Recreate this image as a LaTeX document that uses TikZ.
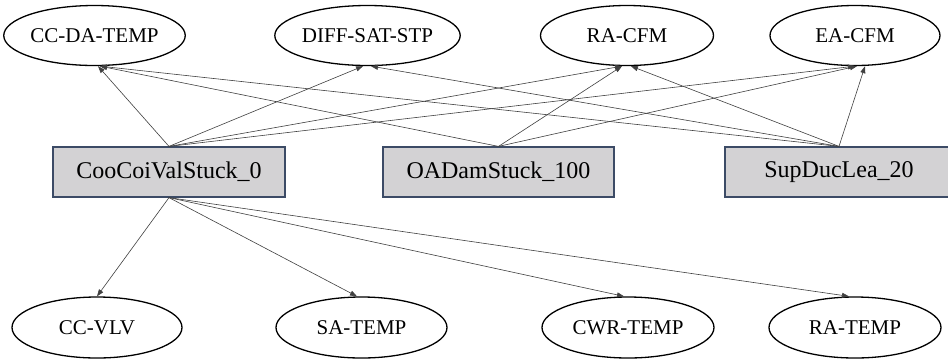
\documentclass[tikz,border=0pt]{standalone}
\usepackage{fontspec}
\setmainfont{Liberation Serif}
\usetikzlibrary{arrows.meta,shapes.geometric}
\definecolor{boxfill}{HTML}{D3D2D4}
\definecolor{boxline}{HTML}{3C4B66}
\definecolor{edgecol}{HTML}{404040}
\tikzset{
  sig/.style={ellipse,draw=black,line width=1.3pt,minimum height=60pt,inner sep=0pt,
    font=\fontsize{21}{25}\selectfont},
  fault/.style={rectangle,draw=boxline,fill=boxfill,line width=1.2pt,minimum height=50pt,inner sep=0pt,
    font=\fontsize{24}{28}\selectfont},
  edge/.style={draw=edgecol,line width=0.6pt,-{Triangle[length=7pt,width=5pt]}}
}
\begin{document}
\begin{tikzpicture}[x=1pt,y=-1pt]
\clip (0,0) rectangle (948,360);
\fill[white] (0,0) rectangle (948,360);
% top ellipses
\node[sig,minimum width=170pt] (ccda) at (94.5,35.5) {CC-DA-TEMP};
\node[sig,minimum width=170pt] (diff) at (367.5,35.5) {DIFF-SAT-STP};
\node[sig,minimum width=173pt] (racfm) at (627,35.5) {RA-CFM};
\node[sig,minimum width=170pt] (eacfm) at (855,35.5) {EA-CFM};
% boxes
\node[fault,minimum width=232pt] (coo) at (169,172) {CooCoiValStuck\_0};
\node[fault,minimum width=231pt] (oad) at (498.5,172) {OADamStuck\_100};
\node[fault,minimum width=228pt] (sup) at (839,172) {SupDucLea\_20};
% bottom ellipses
\node[sig,minimum width=170pt,minimum height=61pt] (ccvlv) at (97,327.5) {CC-VLV};
\node[sig,minimum width=171pt,minimum height=61pt] (satemp) at (361.5,327.5) {SA-TEMP};
\node[sig,minimum width=172pt,minimum height=61pt] (cwr) at (628,327.5) {CWR-TEMP};
\node[sig,minimum width=172pt,minimum height=61pt] (ratemp) at (855,327.5) {RA-TEMP};
% top edges
\draw[edge] (coo.north) -- ([xshift=3.5pt]ccda.south);
\draw[edge] (coo.north) -- ([xshift=-4.5pt]diff.south);
\draw[edge] (coo.north) -- ([xshift=-5pt]racfm.south);
\draw[edge] (coo.north) -- ([xshift=0pt]eacfm.south);
\draw[edge] (oad.north) -- ([xshift=5.5pt]ccda.south);
\draw[edge] (oad.north) -- ([xshift=-5pt]racfm.south);
\draw[edge] (oad.north) -- ([xshift=2pt]eacfm.south);
\draw[edge] (sup.north) -- ([xshift=5.5pt]ccda.south);
\draw[edge] (sup.north) -- ([xshift=3.5pt]diff.south);
\draw[edge] (sup.north) -- ([xshift=4pt]racfm.south);
\draw[edge] (sup.north) -- ([xshift=10pt]eacfm.south);
% bottom edges
\draw[edge] (coo.south) -- (ccvlv.north);
\draw[edge] (coo.south) -- ([xshift=-4.5pt]satemp.north);
\draw[edge] (coo.south) -- ([xshift=-4pt]cwr.north);
\draw[edge] (coo.south) -- ([xshift=-6pt]ratemp.north);
\end{tikzpicture}
\end{document}
